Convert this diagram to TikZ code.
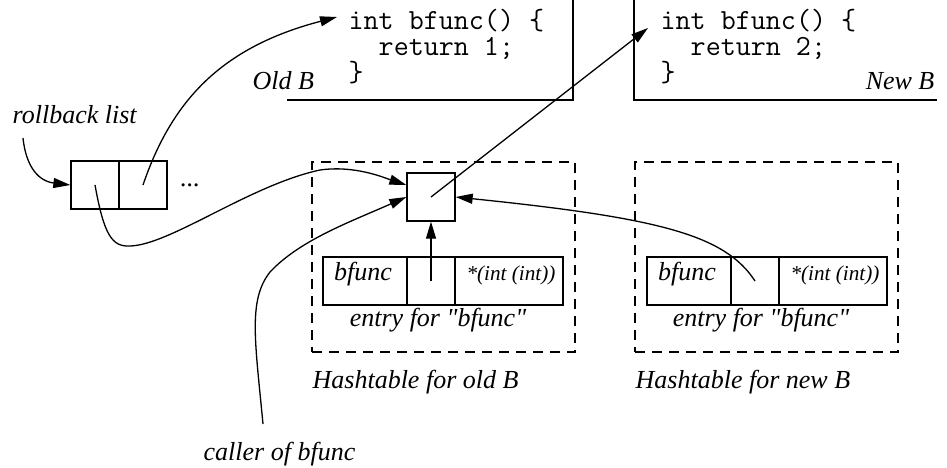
\documentclass[tikz,border=0pt]{standalone}
\usepackage{fontspec}
\setmainfont{Liberation Serif}
\usetikzlibrary{arrows.meta}
\begin{document}
\begin{tikzpicture}[x=0.5pt,y=-0.5pt,
  line width=0.65pt,
  >={Triangle[length=8.5pt,width=5pt]},
  lbl/.style={font=\fontsize{13}{15}\selectfont\itshape, inner sep=0pt, anchor=base west},
  small/.style={font=\fontsize{10.6}{12}\selectfont\itshape, inner sep=0pt, anchor=base},
  code/.style={font=\fontsize{14.6}{13}\selectfont\ttfamily, inner sep=0pt, align=left, anchor=base west},
  cell/.style={draw, minimum height=24pt, inner sep=0pt},
  frame/.style={draw, dash pattern=on 5pt off 3.5pt, inner sep=0pt}
]
\useasboundingbox (0,0) rectangle (947,467);

% code of the old and the new version of B (anchored at the last baseline)
\draw (287,100) -| (573,0);
\draw (634,0) |- (937,100);
\node[code] (oldcode) at (348,81) {int bfunc() \{\\\phantom{in}return 1;\\\}};
\node[lbl] (oldB) at (252,89) {Old B};
\node[code] (newcode) at (660,81) {int bfunc() \{\\\phantom{in}return 2;\\\}};
\node[lbl, anchor=base east] (newB) at (935,89) {New B};
\coordinate (oldtgt) at (337,17);
\coordinate (newtgt) at (648,28);

% rollback list
\node[lbl] (rblabel) at (12,123) {rollback list};
\coordinate (rbstart) at (23,138);
\node[cell, minimum width=24pt] (rl0) at (95,185) {};
\node[cell, minimum width=24pt] (rl1) at (143,185) {};
\node[lbl] (dots) at (180,186) {...};

% hashtable for old B
\node[frame, minimum width=131.5pt, minimum height=95pt] (htold) at (443.5,257) {};
\node[cell, minimum width=24pt] (ptr) at (431,197) {};
\node[cell, minimum width=42pt] (oname) at (365,281) {};
\node[cell, minimum width=24pt] (omid) at (431,281) {};
\node[cell, minimum width=54pt] (otype) at (509,281) {};
\node[lbl, anchor=base] (onametxt) at (363,280) {bfunc};
\node[small] (otypetxt) at (511,280) {*(int (int))};
\node[lbl, anchor=base] (oentry) at (438,326) {entry for \textquotedbl bfunc\textquotedbl};
\node[lbl] (htoldtxt) at (312,388) {Hashtable for old B};

% hashtable for new B
\node[frame, minimum width=131.5pt, minimum height=95pt] (htnew) at (766.5,257) {};
\node[cell, minimum width=42pt] (nname) at (689,281) {};
\node[cell, minimum width=24pt] (nmid) at (755,281) {};
\node[cell, minimum width=54pt] (ntype) at (833,281) {};
\node[lbl, anchor=base] (nnametxt) at (687,280) {bfunc};
\node[small] (ntypetxt) at (835,280) {*(int (int))};
\node[lbl, anchor=base] (nentry) at (761,326) {entry for \textquotedbl bfunc\textquotedbl};
\node[lbl] (htnewtxt) at (635,388) {Hashtable for new B};

% caller
\node[lbl] (caller) at (203,460) {caller of bfunc};
\coordinate (callstart) at (263,424);

% pointers
\draw[->] (rbstart) .. controls (27,175) and (45,182) .. (rl0.west);
\draw[->] (rl1.center) .. controls (172,100) and (222,47) .. (oldtgt);
\draw[->] (rl0.center) .. controls (104,235) and (112,247) .. (130,246)
  .. controls (170,245) and (250,185) .. (320,170)
  .. controls (355,165) and (385,178) .. ([yshift=6pt]ptr.west);
\draw[->] (callstart) .. controls (255,340) and (248,300) .. (270,272)
  .. controls (300,240) and (350,222) .. (ptr.west);
\draw[->] (ptr.center) -- (newtgt);
\draw[->] (omid.center) -- (ptr.south);
\draw[->] (nmid.center) .. controls (725,235) and (660,218) .. (ptr.east);
\end{tikzpicture}
\end{document}
